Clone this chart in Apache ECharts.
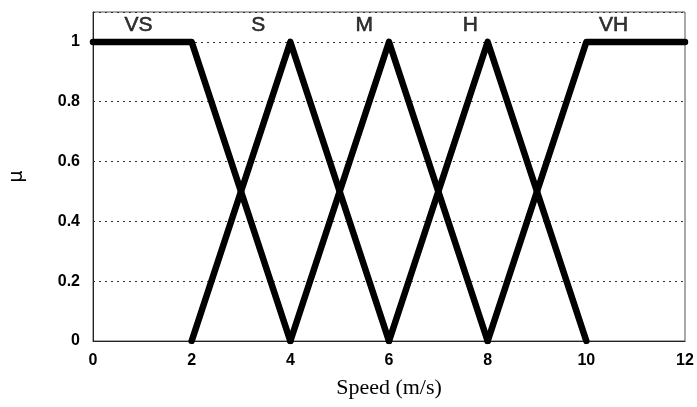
<!DOCTYPE html>
<html>
<head>
<meta charset="utf-8">
<title>Speed membership functions</title>
<script src="https://cdn.jsdelivr.net/npm/echarts@6/dist/echarts.min.js"></script>
<style>
  html, body { margin: 0; padding: 0; background: #fff; }
  #main { width: 697px; height: 407px; }
</style>
</head>
<body>
<div id="main"></div>
<script>
// membership functions: [speed, mu] corner points
var vsPts = [[0, 1], [2, 1], [4, 0]];
var sPts  = [[2, 0], [4, 1], [6, 0]];
var mPts  = [[4, 0], [6, 1], [8, 0]];
var hPts  = [[6, 0], [8, 1], [10, 0]];
var vhPts = [[8, 0], [10, 1], [12, 1]];

var setNames = ['VS', 'S', 'M', 'H', 'VH'];
var setLabelX = [0.92, 3.35, 5.5, 7.65, 10.55];
var setLabelY = 1.055;

var xTicks = [0, 2, 4, 6, 8, 10, 12];
var yTicks = [0, 0.2, 0.4, 0.6, 0.8, 1];

var myChart = echarts.init(document.getElementById('main'));

function mfLine(name, pts) {
    return {
        name: name,
        type: 'line',
        data: pts,
        symbol: 'none',
        animation: false,
        lineStyle: { color: '#000', width: 6.5, cap: 'round', join: 'round' },
        z: 5
    };
}

var tickFont = { fontFamily: 'Liberation Sans', fontWeight: 'bold', fontSize: 16, color: '#000' };

var option = {
    backgroundColor: '#fff',
    animation: false,
    grid: {
        left: 93, right: 12, top: 12, bottom: 66,
        containLabel: false,
        outerBoundsMode: 'none',
        show: true, borderColor: '#555', borderWidth: 1
    },
    xAxis: {
        type: 'value',
        min: 0, max: 12, interval: 2,
        name: 'Speed (m/s)',
        nameLocation: 'middle',
        nameGap: 36,
        nameTextStyle: { fontFamily: 'Liberation Serif', fontSize: 22, color: '#000' },
        axisLine: { show: true, lineStyle: { color: '#222', width: 1 } },
        axisTick: { show: false },
        splitLine: { show: false },
        axisLabel: Object.assign({ margin: 12, formatter: function (v) {
            return xTicks.indexOf(v) >= 0 ? String(v) : '';
        } }, tickFont)
    },
    yAxis: {
        type: 'value',
        min: 0, max: 1.1, interval: 0.2,
        name: 'μ',
        nameLocation: 'middle',
        nameRotate: 90,
        nameGap: 66,
        nameTextStyle: { fontFamily: 'DejaVu Sans', fontSize: 19, color: '#000' },
        axisLine: { show: true, lineStyle: { color: '#222', width: 1 } },
        axisTick: { show: false },
        splitLine: { show: true, lineStyle: { color: '#333', type: [2, 4], width: 1 } },
        axisLabel: Object.assign({ margin: 13, formatter: function (v) {
            var r = Math.round(v * 10) / 10;
            return yTicks.indexOf(r) >= 0 ? String(r) : '';
        } }, tickFont)
    },
    series: [
        mfLine('VS', vsPts),
        mfLine('S', sPts),
        mfLine('M', mPts),
        mfLine('H', hPts),
        mfLine('VH', vhPts),
        {
            type: 'scatter',
            symbolSize: 0,
            silent: true,
            data: setNames.map(function (n, i) { return { name: n, value: [setLabelX[i], setLabelY] }; }),
            label: {
                show: true,
                position: 'inside',
                formatter: '{b}',
                fontFamily: 'Liberation Sans',
                fontSize: 21,
                color: '#000',
                textBorderColor: '#000',
                textBorderWidth: 0.6
            }
        }
    ]
};

myChart.setOption(option);
</script>
</body>
</html>
